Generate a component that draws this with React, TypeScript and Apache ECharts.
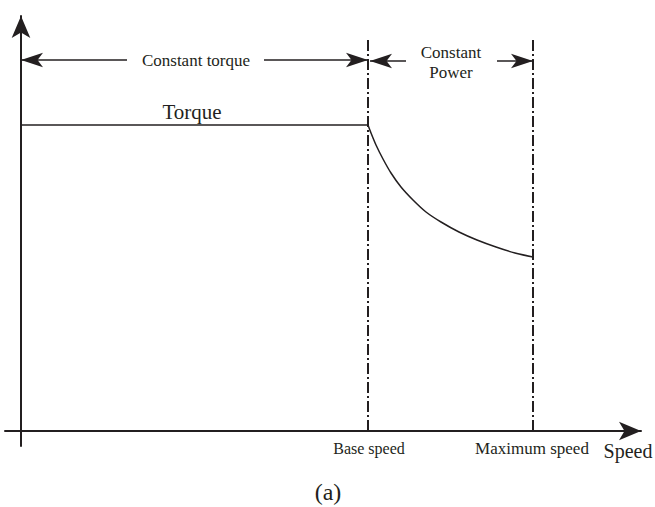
import React, { useEffect, useRef } from "react";
import * as echarts from "echarts";

// Units: speed and torque in drawing units (origin at the axes' crossing)
const baseSpeed = 347;
const maxSpeed = 512;
const torqueFlat: [number, number][] = [
  [0, 306],
  [347, 306],
];
const torqueCurve: [number, number][] = [
  [347, 306], [350, 298], [355, 286], [362, 272], [370, 258], [380, 244],
  [392, 231], [405, 219], [420, 209], [438, 199], [456, 191], [475, 184],
  [494, 178], [512, 174],
];
const guideTop = 391;
const torqueArrowY = 371;
const powerArrowY = 370;
const torqueArrowSegments: [number, number][] = [[0, 106], [243, 347]];
const powerArrowSegments: [number, number][] = [[349, 385], [476, 512]];

const INK = "#231f20";
const FONT = "'Liberation Serif', 'Times New Roman', Times, 'DejaVu Serif', serif";

export default function App() {
  const ref = useRef<HTMLDivElement>(null);
  useEffect(() => {
    if (!ref.current) return;
    const chart = echarts.init(ref.current, null, { renderer: "svg" });
    const markData: any[] = [];
    const seg = (a: number, b: number, y: number, sym: string[]) =>
      markData.push([
        { coord: [a, y], symbol: sym[0], symbolSize: [11, 22] },
        { coord: [b, y], symbol: sym[1], symbolSize: [11, 22] },
      ]);
    seg(torqueArrowSegments[0][0], torqueArrowSegments[0][1], torqueArrowY, ["arrow", "none"]);
    seg(torqueArrowSegments[1][0], torqueArrowSegments[1][1], torqueArrowY, ["none", "arrow"]);
    seg(powerArrowSegments[0][0], powerArrowSegments[0][1], powerArrowY, ["arrow", "none"]);
    seg(powerArrowSegments[1][0], powerArrowSegments[1][1], powerArrowY, ["none", "arrow"]);

    const textStyle = (text: string, size: number) => ({
      text,
      fill: INK,
      fontFamily: FONT,
      fontSize: size,
      fontWeight: "normal",
      align: "center",
      verticalAlign: "middle",
    });

    chart.setOption({
      animation: false,
      textStyle: { fontFamily: FONT },
      grid: { left: 5, right: 14, top: 16, bottom: 61 },
      xAxis: {
        type: "value",
        min: -16,
        max: 620,
        axisLine: {
          onZero: true,
          symbol: ["none", "arrow"],
          symbolSize: [14, 22],
          lineStyle: { color: INK, width: 2 },
        },
        axisTick: { show: false },
        axisLabel: { show: false },
        splitLine: { show: false },
      },
      yAxis: {
        type: "value",
        min: -15,
        max: 415,
        axisLine: {
          onZero: true,
          symbol: ["none", "arrow"],
          symbolSize: [14, 22],
          lineStyle: { color: INK, width: 2 },
        },
        axisTick: { show: false },
        axisLabel: { show: false },
        splitLine: { show: false },
      },
      series: [
        {
          type: "line",
          data: torqueFlat,
          symbol: "none",
          lineStyle: { color: INK, width: 1.5 },
        },
        {
          type: "line",
          data: torqueCurve,
          symbol: "none",
          smooth: 0.3,
          lineStyle: { color: INK, width: 1.5 },
        },
        {
          type: "line",
          data: [[baseSpeed, 0], [baseSpeed, guideTop]],
          symbol: "none",
          lineStyle: { color: INK, width: 2, type: [11, 3, 2, 3] },
        },
        {
          type: "line",
          data: [[maxSpeed, 0], [maxSpeed, guideTop]],
          symbol: "none",
          lineStyle: { color: INK, width: 2, type: [11, 3, 2, 3] },
        },
        {
          type: "line",
          data: [],
          markLine: {
            silent: true,
            label: { show: false },
            lineStyle: { color: INK, width: 1.5, type: "solid" },
            data: markData,
          },
        },
      ],
      graphic: [
        { type: "text", x: 196, y: 60, style: textStyle("Constant torque", 17) },
        { type: "text", x: 192, y: 112, style: textStyle("Torque", 21) },
        { type: "text", x: 451, y: 52, style: textStyle("Constant", 17) },
        { type: "text", x: 451, y: 72, style: textStyle("Power", 17) },
        { type: "text", x: 369, y: 448, style: textStyle("Base speed", 16) },
        { type: "text", x: 532, y: 448, style: textStyle("Maximum speed", 17) },
        { type: "text", x: 628, y: 451, style: textStyle("Speed", 20) },
        { type: "text", x: 328, y: 492, style: textStyle("(a)", 24) },
      ],
    });
    return () => chart.dispose();
  }, []);
  return (
    <div
      ref={ref}
      style={{ position: "fixed", left: 0, top: 0, width: 655, height: 507, background: "#fff" }}
    />
  );
}
